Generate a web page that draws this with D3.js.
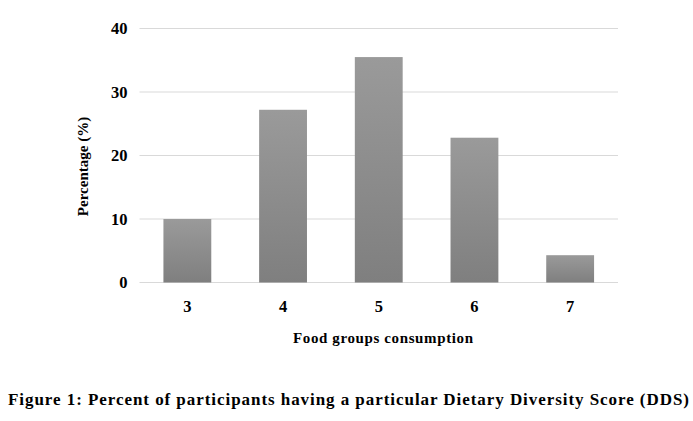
<!DOCTYPE html>
<html>
<head>
<meta charset="utf-8">
<script src="https://cdn.jsdelivr.net/npm/d3@7"></script>
<style>
  body { margin: 0; background: #fff; }
  text { font-family: "Liberation Serif", "Times New Roman", serif; font-weight: bold; fill: #000; }
</style>
</head>
<body>
<div id="chart"></div>
<script>
const categories = ["3", "4", "5", "6", "7"];
const percentages = [10.0, 27.2, 35.5, 22.8, 4.3];
const yTicks = [0, 10, 20, 30, 40];

const W = 693, H = 421;
const margin = { top: 28.5, right: 75, bottom: 138.5, left: 139.5 };
const width = W - margin.left - margin.right;
const height = H - margin.top - margin.bottom;

const svg = d3.select("#chart").append("svg")
  .attr("width", W)
  .attr("height", H);

// bar gradient, lighter at the top
const grad = svg.append("defs").append("linearGradient")
  .attr("id", "barGrad")
  .attr("x1", 0).attr("y1", 0).attr("x2", 0).attr("y2", 1);
grad.append("stop").attr("offset", "0%").attr("stop-color", "#9a9a9a");
grad.append("stop").attr("offset", "100%").attr("stop-color", "#7f7f7f");

const g = svg.append("g")
  .attr("transform", `translate(${margin.left}, ${margin.top})`);

const x = d3.scaleBand()
  .domain(categories)
  .range([0, width])
  .paddingInner(0.5)
  .paddingOuter(0.25);

const y = d3.scaleLinear()
  .domain([0, 40])
  .range([height, 0]);

// gridlines
g.append("g")
  .selectAll("line")
  .data(yTicks)
  .enter()
  .append("line")
  .attr("x1", 0)
  .attr("x2", width)
  .attr("y1", d => y(d))
  .attr("y2", d => y(d))
  .attr("stroke", "#d9d9d9")
  .attr("stroke-width", 1);

g.selectAll(".bar")
  .data(percentages)
  .enter()
  .append("rect")
  .attr("class", "bar")
  .attr("x", (d, i) => x(categories[i]))
  .attr("y", d => y(d))
  .attr("width", x.bandwidth())
  .attr("height", d => height - y(d))
  .attr("fill", "url(#barGrad)");

// y axis labels
const yAxis = g.append("g")
  .call(d3.axisLeft(y).tickValues(yTicks).tickSize(0).tickPadding(12));
yAxis.select(".domain").remove();
yAxis.selectAll("text")
  .attr("font-size", "16.5px");

// x axis labels
const xAxis = g.append("g")
  .attr("transform", `translate(0, ${height})`)
  .call(d3.axisBottom(x).tickSize(0).tickPadding(18));
xAxis.select(".domain").remove();
xAxis.selectAll("text")
  .attr("font-size", "16.5px");

svg.append("text")
  .attr("transform", `translate(88, ${166.5}) rotate(-90)`)
  .attr("text-anchor", "middle")
  .attr("font-size", "15px")
  .text("Percentage (%)");

svg.append("text")
  .attr("x", 383)
  .attr("y", 342.5)
  .attr("text-anchor", "middle")
  .attr("font-size", "15px")
  .attr("textLength", 180)
  .attr("lengthAdjust", "spacing")
  .text("Food groups consumption");

svg.append("text")
  .attr("x", 8)
  .attr("y", 404.5)
  .attr("font-size", "17px")
  .attr("textLength", 681)
  .attr("lengthAdjust", "spacing")
  .text("Figure 1: Percent of participants having a particular Dietary Diversity Score (DDS)");
</script>
</body>
</html>
